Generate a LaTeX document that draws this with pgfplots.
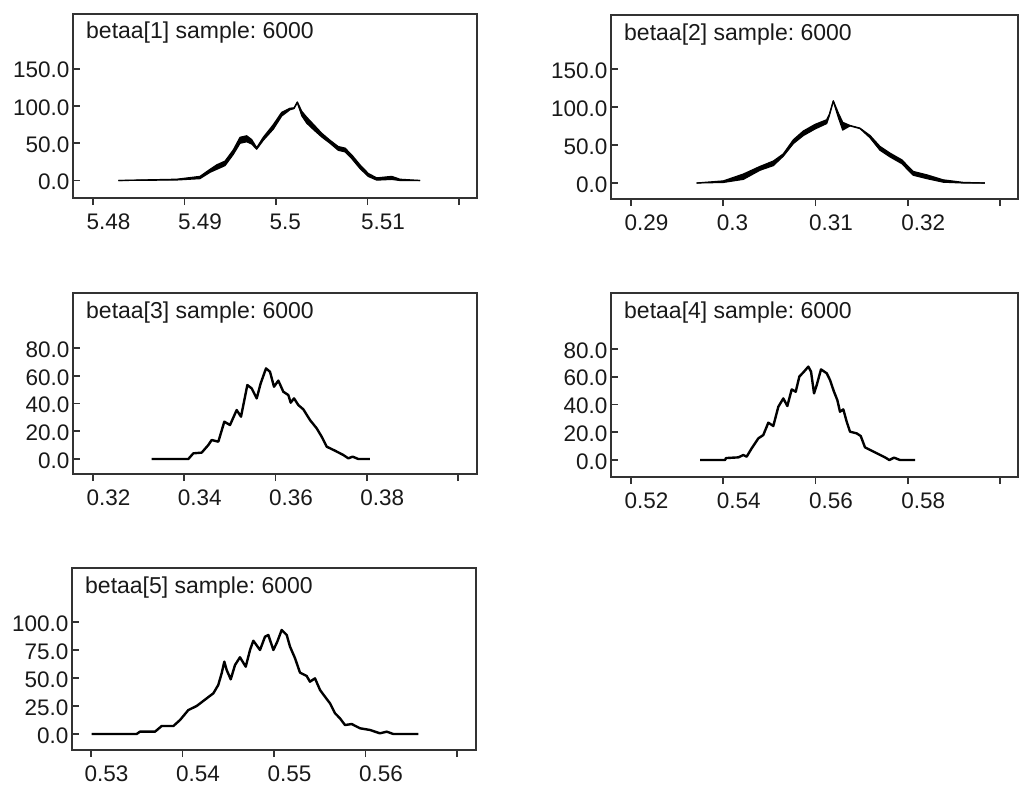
\documentclass[border=0pt]{standalone}
\usepackage{fontspec}
\setmainfont{Liberation Sans}
\usepackage{pgfplots}
\usepackage{pgfplotstable}
\pgfplotsset{compat=1.18}
\usepgfplotslibrary{fillbetween}
\frenchspacing

% kernel density bands (lower / upper edge) for betaa[1] and betaa[2]
\pgfplotstableread{
x lo hi
5.48277 0 0
5.48914 0.7 1.7
5.49169 2.5 5.5
5.49279 11 15
5.49352 15 21
5.49443 20 26
5.49533 35 41
5.49607 50 58
5.49680 52 60
5.49734 49 55
5.49789 42 44
5.49861 54 58
5.49971 69 75
5.50062 86.5 91.5
5.50153 95 97
5.50197 96.5 97.5
5.50233 104.5 105.5
5.50281 87 93
5.50335 77 85
5.50408 68.5 75.5
5.50499 58.5 63.5
5.50590 50 54
5.50681 40.5 45.5
5.50754 38.5 43.5
5.50827 29.5 34.5
5.50918 16 21
5.51009 5.4 9.4
5.51101 0.5 3.5
5.51265 1.5 5.5
5.51355 0 1.7
5.51574 0 0
}\densA

\pgfplotstableread{
x lo hi
0.29712 0 0
0.30001 0.75 2.75
0.30218 4.8 11.8
0.30398 16.8 21.8
0.30543 22.9 28.9
0.30651 35.3 38.3
0.30760 51.9 56.9
0.30868 62.4 68.4
0.30995 71.1 77.1
0.31121 78.2 83.2
0.31150 88.5 90.5
0.31193 107.6 108.2
0.31248 86 92
0.31295 69.7 79.8
0.31374 75.1 75.7
0.31482 71.6 72.2
0.31591 59.5 62.5
0.31699 43.1 48.1
0.31808 34.3 39.3
0.31934 25.6 30.6
0.32060 10.2 15.2
0.32205 5.8 10.8
0.32385 1.1 4.1
0.32602 0 0.8
0.32837 0 0
}\densB

% step-like densities for betaa[3], betaa[4], betaa[5]
\pgfplotstableread{
x y
0.33286 0
0.34089 0
0.34199 4.1
0.34382 4.6
0.34528 10.1
0.34601 13.7
0.34747 12.5
0.34878 26.9
0.35003 24.5
0.35149 35.3
0.35244 30.5
0.35383 53.3
0.35478 50.9
0.35588 43.7
0.35675 54.5
0.35792 65.3
0.35879 62.9
0.35967 52.1
0.36062 56.5
0.36171 48.5
0.36281 46.1
0.36333 40.6
0.36406 43.7
0.36500 38.9
0.36610 35.8
0.36756 28.1
0.36903 22.1
0.37012 16.1
0.37122 8.9
0.37304 6.0
0.37486 2.9
0.37596 0.5
0.37692 1.7
0.37815 0
0.38071 0
}\densC

\pgfplotstableread{
x y
0.53496 0
0.54038 0
0.54060 1.4
0.54327 1.9
0.54435 3.6
0.54508 2.4
0.54616 8.4
0.54760 15.6
0.54868 18.0
0.54977 26.9
0.55085 24.5
0.55194 38.4
0.55302 44.4
0.55389 38.9
0.55484 50.9
0.55571 49.2
0.55649 60.1
0.55751 63.7
0.55844 67.3
0.55903 63.7
0.55968 48.0
0.56026 54.0
0.56119 65.3
0.56243 62.5
0.56314 57.7
0.56401 49.2
0.56473 43.2
0.56531 34.8
0.56603 36.5
0.56676 27.6
0.56748 20.4
0.56893 19.2
0.56980 17.3
0.57073 9.1
0.57218 6.7
0.57361 4.3
0.57507 1.9
0.57600 0
0.57702 1.7
0.57832 0
0.58157 0
}\densD

\pgfplotstableread{
x y
0.53007 0
0.53499 0
0.53535 2.1
0.53700 2.1
0.53772 7.1
0.53900 7.1
0.53973 12.5
0.54064 21.4
0.54155 25.0
0.54264 31.8
0.54337 36.3
0.54391 43.8
0.54428 54.2
0.54457 64.6
0.54483 57.1
0.54527 48.8
0.54574 61.6
0.54628 68.5
0.54691 60.1
0.54738 75.0
0.54774 83.3
0.54847 75.0
0.54902 86.9
0.54938 88.4
0.54993 75.0
0.55036 82.4
0.55084 92.9
0.55139 88.4
0.55175 78.0
0.55230 67.6
0.55284 54.8
0.55357 51.8
0.55393 46.7
0.55448 49.7
0.55503 39.3
0.55557 33.3
0.55612 27.4
0.55667 18.5
0.55721 14.0
0.55776 8.0
0.55849 8.9
0.55940 5.1
0.56049 3.6
0.56158 0.6
0.56232 2.1
0.56304 0
0.56577 0
}\densE

\pgfplotsset{
  bugspanel/.style={
    scale only axis, width=404pt, height=184pt,
    anchor=south west,
    axis line style={draw=black!80, line width=1.8pt},
    tick align=inside, tick pos=left,
    major tick length=7pt,
    tick style={draw=black!80, line width=1.6pt},
    xtick style={yshift=-7pt},
    ticklabel style={font=\fontsize{22.5}{27}\selectfont, text=black!90},
    xticklabel style={anchor=north west, xshift=-10pt, yshift=-12.5pt},
    yticklabel style={yshift=-1.5pt,
      /pgf/number format/fixed, /pgf/number format/fixed zerofill,
      /pgf/number format/precision=1, /pgf/number format/assume math mode=true},
  },
  band/.style={draw=black, line width=1.2pt, line join=round},
  steps/.style={draw=black, line width=2.4pt, line join=round},
}

\newcommand{\paneltitle}[1]{%
  \node[anchor=base west, inner sep=0pt, xshift=13pt, yshift=-25pt,
        font=\fontsize{23}{27}\selectfont, text=black!90]
    at (rel axis cs:0,1) {#1};}

\begin{document}
\begin{tikzpicture}
% page frame: fixes the size of the figure
\path (0,0) rectangle (1020pt,-789pt);

% betaa[1]
\begin{axis}[bugspanel, at={(73pt,-198pt)},
  xmin=5.477814, xmax=5.521967, ymin=-23.5, ymax=223.5,
  xtick={5.48,5.49,5.5,5.51,5.52}, xticklabels={5.48,5.49,5.5,5.51,{}},
  ytick={0,50,100,150}]
  \addplot[band, name path=a1] table[x=x, y=hi] {\densA};
  \addplot[band, name path=a2] table[x=x, y=lo] {\densA};
  \addplot[black] fill between[of=a1 and a2];
  \paneltitle{betaa[1] sample: 6000}
\end{axis}

% betaa[2]
\begin{axis}[bugspanel, at={(611pt,-199pt)}, width=407pt,
  xmin=0.287832, xmax=0.331951, ymin=-21.05, ymax=221.05,
  xtick={0.29,0.3,0.31,0.32,0.33}, xticklabels={0.29,0.3,0.31,0.32,{}},
  ytick={0,50,100,150}]
  \addplot[band, name path=b1] table[x=x, y=hi] {\densB};
  \addplot[band, name path=b2] table[x=x, y=lo] {\densB};
  \addplot[black] fill between[of=b1 and b2];
  \paneltitle{betaa[2] sample: 6000}
\end{axis}

% betaa[3]
\begin{axis}[bugspanel, at={(73pt,-474pt)}, height=181pt,
  xmin=0.315616, xmax=0.404164, ymin=-10.8, ymax=119.64,
  xtick={0.32,0.34,0.36,0.38,0.40}, xticklabels={0.32,0.34,0.36,0.38,{}},
  ytick={0,20,40,60,80}]
  \addplot[steps] table[x=x, y=y] {\densC};
  \paneltitle{betaa[3] sample: 6000}
\end{axis}

% betaa[4]
\begin{axis}[bugspanel, at={(611pt,-477pt)}, width=407pt,
  xmin=0.515664, xmax=0.603902, ymin=-12.25, ymax=120.36,
  xtick={0.52,0.54,0.56,0.58,0.60}, xticklabels={0.52,0.54,0.56,0.58,{}},
  ytick={0,20,40,60,80}]
  \addplot[steps] table[x=x, y=y] {\densD};
  \paneltitle{betaa[4] sample: 6000}
\end{axis}

% betaa[5]
\begin{axis}[bugspanel, at={(72pt,-750pt)}, height=182pt,
  xmin=0.527923, xmax=0.572077, ymin=-14.29, ymax=148.2,
  xtick={0.53,0.54,0.55,0.56,0.57}, xticklabels={0.53,0.54,0.55,0.56,{}},
  ytick={0,25,50,75,100}]
  \addplot[steps] table[x=x, y=y] {\densE};
  \paneltitle{betaa[5] sample: 6000}
\end{axis}
\end{tikzpicture}
\end{document}
